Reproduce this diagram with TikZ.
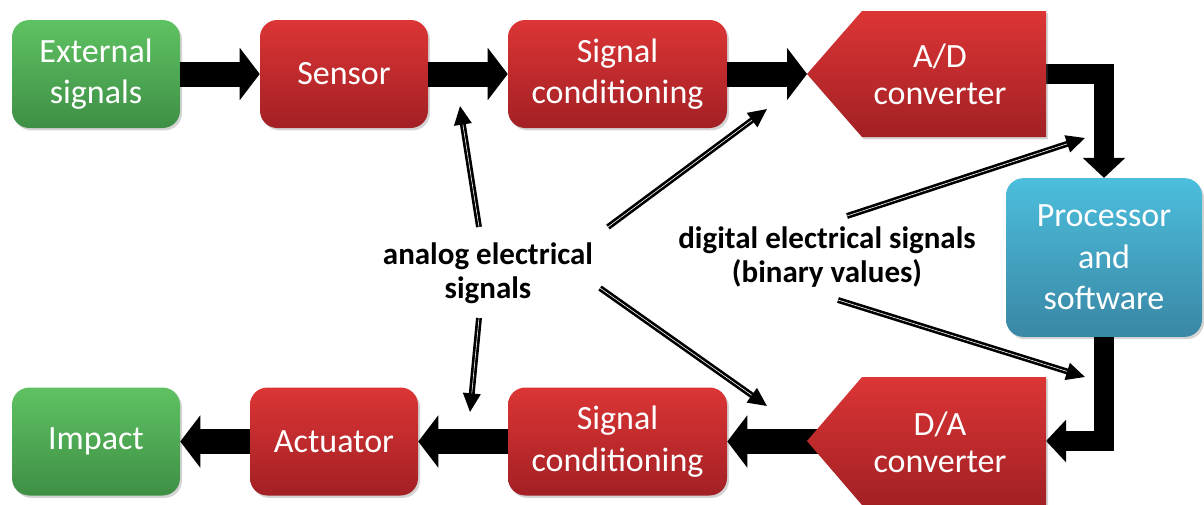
\documentclass[tikz,border=0pt]{standalone}
\usepackage{fontspec}
\setmainfont{Carlito}
\usetikzlibrary{arrows.meta,shadows}
\definecolor{redtop}{HTML}{DC3535}
\definecolor{redbot}{HTML}{A22024}
\definecolor{greentop}{HTML}{5FC262}
\definecolor{greenbot}{HTML}{3E8F45}
\definecolor{bluetop}{HTML}{4CBEDD}
\definecolor{bluebot}{HTML}{3987A4}
\begin{document}
\begin{tikzpicture}[x=0.75pt,y=-0.75pt,
  softshadow/.style={drop shadow={shadow xshift=1.5pt,shadow yshift=-1.8pt,opacity=0.28,fill=black!60}},
  box/.style={rounded corners=13pt, minimum height=81pt, inner sep=0pt, text=white, align=center,
    font=\fontsize{25.5}{31}\selectfont, softshadow},
  redbox/.style={box, top color=redtop, bottom color=redbot},
  greenbox/.style={box, top color=greentop, bottom color=greenbot, minimum width=126pt},
  bluebox/.style={box, top color=bluetop, bottom color=bluebot, minimum width=147pt, minimum height=119pt},
  convshape/.style={top color=redtop, bottom color=redbot, softshadow},
  convtext/.style={text=white, align=center, inner sep=0pt, font=\fontsize{25.5}{28}\selectfont},
  bigarrow/.style={line width=18.75pt, -{Triangle[length=15pt,width=38.5pt]}},
  elbowarrow/.style={line width=15.5pt, line join=miter, -{Triangle[length=15pt,width=31pt]}},
  sig/.style={line width=2pt, double=white, double distance=0.45pt, -{Triangle[length=14pt,width=13pt]}},
  lbl/.style={align=center, inner sep=0pt, font=\bfseries\fontsize{23.25}{25.5}\selectfont},
]
\useasboundingbox (0,0) rectangle (1204,504);

% top row
\node[greenbox] (ext) at (96,74) {External\\signals};
\node[redbox, minimum width=126pt] (sensor) at (344,74) {Sensor};
\node[redbox, minimum width=164.25pt] (sc1) at (617.5,74) {Signal\\conditioning};

% bottom row
\node[greenbox] (impact) at (96,441.5) {Impact};
\node[redbox, minimum width=126pt] (act) at (334,441.5) {Actuator};
\node[redbox, minimum width=164.25pt] (sc2) at (617.5,441.5) {Signal\\conditioning};

% processor
\node[bluebox] (proc) at (1104,257.5) {Processor\\and\\software};

% converter reference points
\coordinate (adtip) at (807,74);
\coordinate (adR) at (1046,74);
\coordinate (dain) at (835,441.5);
\coordinate (daR) at (1046,441);

% thick arrows
\draw[bigarrow] (ext.east) -- (sensor.west);
\draw[bigarrow] (sensor.east) -- (sc1.west);
\draw[bigarrow] (sc1.east) -- (adtip);
\draw[elbowarrow] (adR) -| (proc.north);
\draw[elbowarrow] (proc.south) |- (daR);
\draw[bigarrow] (dain) -- (sc2.east);
\draw[bigarrow] (sc2.west) -- (act.east);
\draw[bigarrow] (act.west) -- (impact.east);

% A/D converter
\shade[convshape] (807,74) -- (862,11) -- (1046,11) -- (1046,137) -- (862,137) -- cycle;
\node[convtext] (ad) at (940,74) {A/D\\converter};

% D/A converter
\shade[convshape] (807,441) -- (862,377) -- (1046,377) -- (1046,505) -- (862,505) -- cycle;
\node[convtext] (da) at (940,442) {D/A\\converter};

% labels
\node[lbl] (analog) at (488,273) {analog electrical\\signals};
\node[lbl] (digital) at (827,257) {digital electrical signals\\(binary values)};

% thin signal arrows
\coordinate (a1s) at (479,227); \coordinate (a1e) at (460,106);
\coordinate (a2s) at (479,318); \coordinate (a2e) at (470,412);
\coordinate (a3s) at (608,227); \coordinate (a3e) at (767,109);
\coordinate (a4s) at (600,288); \coordinate (a4e) at (767,406);
\coordinate (d1s) at (847,216); \coordinate (d1e) at (1085,138);
\coordinate (d2s) at (838,300); \coordinate (d2e) at (1085,377);
\draw[sig] (a1s) -- (a1e);
\draw[sig] (a2s) -- (a2e);
\draw[sig] (a3s) -- (a3e);
\draw[sig] (a4s) -- (a4e);
\draw[sig] (d1s) -- (d1e);
\draw[sig] (d2s) -- (d2e);
\end{tikzpicture}
\end{document}
